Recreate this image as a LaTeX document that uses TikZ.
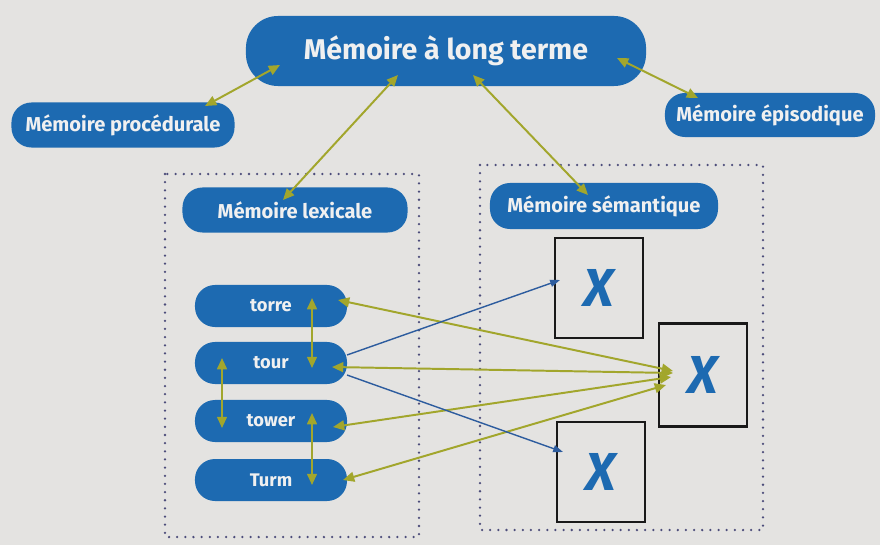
\documentclass[tikz,border=0pt]{standalone}
\usepackage{fontspec}
\setmainfont{Fira Sans}
\usetikzlibrary{arrows.meta}
\definecolor{memblue}{HTML}{1D6AB1}
\definecolor{linkgreen}{HTML}{A2A62C}
\definecolor{refblue}{HTML}{2D5C9E}
\definecolor{paper}{HTML}{E4E3E1}
\begin{document}
\begin{tikzpicture}[x=0.025cm,y=-0.025cm,
  mem/.style={fill=memblue,text=white!94!black,rounded corners=0.5cm,inner sep=0pt,
    font=\bfseries\fontsize{14.3}{16}\selectfont},
  word/.style={mem,minimum width=3.8cm,minimum height=1.05cm,font=\bfseries\fontsize{13}{15}\selectfont},
  sensebox/.style={draw=black!90,line width=2.1pt,inner sep=0pt,minimum width=2.2cm,
    minimum height=2.5cm,text=memblue,font=\bfseries\itshape\fontsize{38}{40}\selectfont},
  zone/.style={draw=black!55!blue!40!gray,line width=1.8pt,dash pattern=on 0pt off 5.8pt,line cap=round},
  link/.style={linkgreen,line width=1.4pt,{Triangle[length=8pt,width=7pt]}-{Triangle[length=8pt,width=7pt]}},
  refer/.style={refblue,line width=1pt,-{Triangle[length=7pt,width=5pt]}}]
  \fill[paper] (0,0) rectangle (880,545);
  \useasboundingbox (0,0) rectangle (880,545);
  \draw[zone] (165,174) rectangle (419,537);
  \draw[zone] (480,165) rectangle (763,530);
  \node[mem,rounded corners=0.8cm,minimum width=10cm,minimum height=1.75cm,
    font=\bfseries\fontsize{20.3}{23}\selectfont] (main) at (446,51) {Mémoire à long terme};
  \node[mem,minimum width=5.575cm,minimum height=1.125cm] (proc) at (123,125) {Mémoire procédurale};
  \node[mem,minimum width=5.25cm,minimum height=1.1cm] (epis) at (770,115) {Mémoire épisodique};
  \node[mem,minimum width=5.625cm,minimum height=1.125cm] (lex) at (295,210) {Mémoire lexicale};
  \node[mem,minimum width=5.7cm,minimum height=1.15cm] (sem) at (604,206) {Mémoire sémantique};
  \node[word] (torre) at (271,306) {torre};
  \node[word] (tour) at (271,363) {tour};
  \node[word] (tower) at (271,421) {tower};
  \node[word] (turm) at (271,480) {Turm};
  \node[sensebox] (img1) at (599,288) {X};
  \node[sensebox,minimum height=2.575cm] (img2) at (703,375) {X};
  \node[sensebox] (img3) at (601,472) {X};
  \draw[link] ([shift={(-166,14)}]main.center) -- ([shift={(82,-19)}]proc.center);
  \draw[link] ([shift={(-48,24)}]main.center) -- ([shift={(-12,-10)}]lex.center);
  \draw[link] ([shift={(27,24)}]main.center) -- ([shift={(-16,-11)}]sem.center);
  \draw[link] ([shift={(171,7)}]main.center) -- ([shift={(-72,-17)}]epis.center);
  \draw[link] ([shift={(41,-8)}]torre.center) -- ([shift={(41,5)}]tour.center);
  \draw[link] ([shift={(-49,-5)}]tour.center) -- ([shift={(-49,7)}]tower.center);
  \draw[link] ([shift={(41,-8)}]tower.center) -- ([shift={(41,5)}]turm.center);
  \draw[link] ([shift={(67,-6)}]torre.center) -- ([shift={(-30,-4)}]img2.center);
  \draw[link] ([shift={(61,4)}]tour.center) -- ([shift={(-30,-2)}]img2.center);
  \draw[link] ([shift={(62,6)}]tower.center) -- ([shift={(-32,2)}]img2.center);
  \draw[link] ([shift={(72,0)}]turm.center) -- ([shift={(-37,10)}]img2.center);
  \draw[refer] ([shift={(76,-8)}]tour.center) -- ([shift={(-39,-8)}]img1.center);
  \draw[refer] ([shift={(76,12)}]tour.center) -- ([shift={(-38,-20)}]img3.center);
\end{tikzpicture}
\end{document}
